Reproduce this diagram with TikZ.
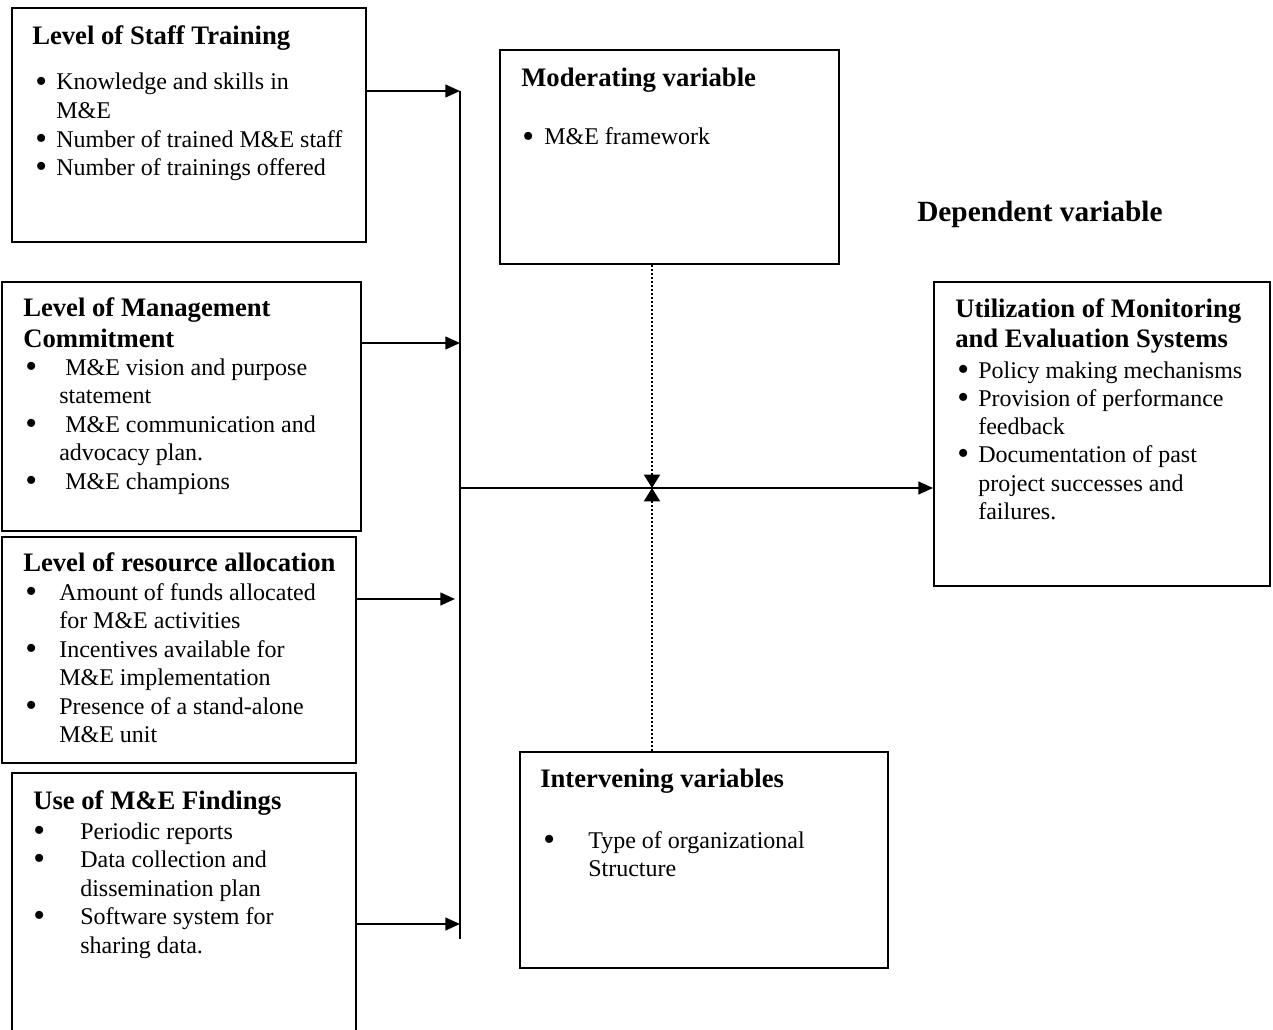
\documentclass[tikz,border=0pt]{standalone}
\usepackage{fontspec}
\setmainfont{Liberation Serif}
\usetikzlibrary{arrows.meta,fit}
\newcommand{\bu}{\smash{\raisebox{-1.6pt}{\scalebox{1.4}{\textbullet}}}}
\newcommand{\bl}[2]{\hbox{\makebox[#1][l]{\bu}#2}}
\newcommand{\cl}[2]{\hbox{\hspace*{#1}#2}}
\newcommand{\lines}[2][21.4pt]{\vtop{\baselineskip=#1\lineskiplimit=-20pt #2}}
\begin{document}
\begin{tikzpicture}[x=0.75pt,y=-0.75pt,
  box/.style={draw, line width=1.4pt, inner sep=0pt},
  body/.style={inner sep=0pt, anchor=base west, font=\fontsize{18}{21.4}\selectfont},
  ttl/.style={inner sep=0pt, anchor=base west, font=\fontsize{20}{22.5}\selectfont\bfseries},
  arr/.style={line width=1.7pt, -{Triangle[length=11pt,width=9.5pt]}},
  dotarr/.style={line width=1.4pt, dash pattern=on 1.3pt off 1.7pt, -{Triangle[length=10pt,width=12pt]}},
  bus/.style={line width=1.7pt}]
\path[use as bounding box] (0,0) rectangle (1273,1030);
\clip (0,0) rectangle (1273,1030);

% boxes
\node[box, fit={(12,8) (366,242)}] (st) {};
\node[box, fit={(2,282) (361,531)}] (mc) {};
\node[box, fit={(2,537) (356,763)}] (ra) {};
\node[box, fit={(12,773) (356,1050)}] (uf) {};
\node[box, fit={(500,50) (839,264)}] (mv) {};
\node[box, fit={(934,282) (1270,586)}] (ut) {};
\node[box, fit={(520,752) (888,968)}] (iv) {};

% box 1
\node[ttl] (stT) at (32,45) {Level of Staff Training};
\node[body] (stB) at (35,90) {\lines{\bl{15.75pt}{Knowledge and skills in}\cl{15.75pt}{M\&E}\bl{15.75pt}{Number of trained M\&E staff}\bl{15.75pt}{Number of trainings offered}}};

% box 2
\node[ttl] (mcT) at (23,317) {\lines[22.5pt]{\hbox{Level of Management}\hbox{Commitment}}};
\node[body] (mcB) at (25,375) {\lines{\bl{25.5pt}{\ M\&E vision and purpose}\cl{25.5pt}{statement}\bl{25.5pt}{\ M\&E communication and}\cl{25.5pt}{advocacy plan.}\bl{25.5pt}{\ M\&E champions}}};

% box 3
\node[ttl] (raT) at (23,571) {Level of resource allocation};
\node[body] (raB) at (25,600) {\lines{\bl{25.5pt}{Amount of funds allocated}\cl{25.5pt}{for M\&E activities}\bl{25.5pt}{Incentives available for}\cl{25.5pt}{M\&E implementation}\bl{25.5pt}{Presence of a stand-alone}\cl{25.5pt}{M\&E unit}}};

% box 4
\node[ttl] (ufT) at (33,809) {Use of M\&E Findings};
\node[body] (ufB) at (33,839) {\lines{\bl{35.25pt}{Periodic reports}\bl{35.25pt}{Data collection and}\cl{35.25pt}{dissemination plan}\bl{35.25pt}{Software system for}\cl{35.25pt}{sharing data.}}};

% moderating
\node[ttl] (mvT) at (521,87) {Moderating variable};
\node[body] (mvB) at (522,145) {\lines{\bl{16.5pt}{M\&E framework}}};

% dependent
\node[inner sep=0pt, anchor=base west, font=\fontsize{22}{26}\selectfont\bfseries] (dv) at (917,222) {Dependent variable};

% utilization
\node[ttl] (utT) at (955,318) {\lines[21.75pt]{\hbox{Utilization of Monitoring}\hbox{and Evaluation Systems}}};
\node[body] (utB) at (957,378) {\lines[21.2pt]{\bl{15.75pt}{Policy making mechanisms}\bl{15.75pt}{Provision of performance}\cl{15.75pt}{feedback}\bl{15.75pt}{Documentation of past}\cl{15.75pt}{project successes and}\cl{15.75pt}{failures.}}};

% intervening
\node[ttl] (ivT) at (540,787) {Intervening variables};
\node[body] (ivB) at (543,848) {\lines{\bl{33.75pt}{Type of organizational}\cl{33.75pt}{Structure}}};

% connectors
\coordinate (busTop) at (460,91);
\coordinate (busBot) at (460,939);
\coordinate (j2) at (460,343);
\coordinate (j3) at (455,599);
\coordinate (j4) at (460,924);
\coordinate (hub) at (460,488);
\coordinate (cx) at (652,488);
\draw[bus] (busTop) -- (busBot);
\draw[arr] (st.east |- busTop) -- (busTop);
\draw[arr] (mc.east |- j2) -- (j2);
\draw[arr] (ra.east |- j3) -- (j3);
\draw[arr] (uf.east |- j4) -- (j4);
\draw[arr] (hub) -- (ut.west |- hub);
\draw[dotarr] (cx |- mv.south) -- (cx);
\draw[dotarr] (cx |- iv.north) -- (cx);
\end{tikzpicture}
\end{document}
